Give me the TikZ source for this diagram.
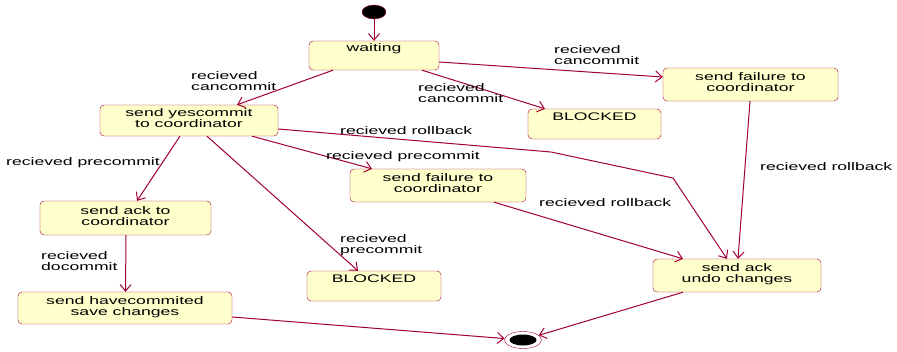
\documentclass[tikz,border=0pt]{standalone}
\usepackage{fontspec}
\newfontfamily\umlfont{Liberation Sans}[FakeStretch=1.6]
\usetikzlibrary{arrows.meta,shapes.geometric}
\definecolor{umlred}{RGB}{160,0,52}
\definecolor{umlfill}{RGB}{255,255,204}

\begin{document}
\begin{tikzpicture}[x=1pt, y=-1pt,
  state/.style={draw=umlred, fill=umlfill, rounded corners=4pt, align=center,
    inner sep=0pt, text depth=4pt, font=\umlfont\fontsize{11}{11}\selectfont},
  arr/.style={-{Straight Barb[length=6.5pt, width=11pt]}, draw=umlred, line width=1pt},
  note/.style={anchor=north west, align=left, inner sep=0pt,
    font=\umlfont\fontsize{11}{11}\selectfont}
]
\useasboundingbox (0,0) rectangle (897,351);

% states
\node[ellipse, fill=black, draw=umlred, minimum width=24pt, minimum height=14pt, inner sep=0pt] (init) at (374,12) {};
\node[state, minimum width=130pt, minimum height=29pt] (waiting) at (374,55.5) {waiting\\~};
\node[state, minimum width=178pt, minimum height=31pt] (yescommit) at (189,120.5) {send yescommit\\to coordinator};
\node[state, minimum width=133pt, minimum height=30pt] (blockedA) at (594.5,124) {BLOCKED\\~};
\node[state, minimum width=175pt, minimum height=33pt] (failureA) at (750.5,84.5) {send failure to\\coordinator};
\node[state, minimum width=171pt, minimum height=34pt] (ackcoord) at (125.5,218) {send ack to\\coordinator};
\node[state, minimum width=176pt, minimum height=33pt] (failureB) at (438,185.5) {send failure to\\coordinator};
\node[state, minimum width=134pt, minimum height=30pt] (blockedB) at (374,286) {BLOCKED\\~};
\node[state, minimum width=214pt, minimum height=32pt] (havecommited) at (125,308) {send havecommited\\save changes};
\node[state, minimum width=168pt, minimum height=33pt] (undo) at (737,275.5) {send ack\\undo changes};
\node[ellipse, fill=white, draw=umlred, minimum width=37pt, minimum height=17pt, inner sep=0pt] (final) at (523,340) {};
\fill[black] (final) ellipse [x radius=13.5pt, y radius=5.5pt];

\coordinate (bendA) at (551,152);
\coordinate (bendB) at (673,178);

% transitions
\draw[arr] (init) -- (waiting);
\draw[arr] ([xshift=-41pt]waiting.south) -- ([xshift=48pt]yescommit.north);
\draw[arr] ([xshift=48pt]waiting.south) -- ([xshift=-49.5pt]blockedA.north);
\draw[arr] ([yshift=-6.5pt]waiting.east) -- ([yshift=7.5pt]failureA.west);
\draw[arr] ([xshift=-0.5pt]failureA.south) -- ([xshift=1pt]undo.north);
\draw[arr] ([xshift=-9pt]yescommit.south) -- ([xshift=11.5pt]ackcoord.north);
\draw[arr] ([xshift=18pt]yescommit.south) -- ([xshift=-16pt]blockedB.north);
\draw[arr] ([xshift=63pt]yescommit.south) -- ([xshift=-66pt]failureB.north);
\draw[arr] ([yshift=-8.5pt]yescommit.east) -- (bendA) -- (bendB) -- ([xshift=-10pt]undo.north);
\draw[arr] ([xshift=56pt]failureB.south) -- ([xshift=-54pt]undo.north);
\draw[arr] ([xshift=0.5pt]ackcoord.south) -- ([xshift=0.5pt]havecommited.north);
\draw[arr] ([yshift=-9pt]havecommited.east) -- (final);
\draw[arr] ([xshift=-54pt]undo.south) -- (final);

% guards
\node[note] (lblA) at (191,71) {recieved\\cancommit};
\node[note] (lblB) at (418,83) {recieved\\cancommit};
\node[note] (lblC) at (554,45) {recieved\\cancommit};
\node[note] (lblD) at (760,162) {recieved rollback};
\node[note] (lblE) at (6,157) {recieved precommit};
\node[note] (lblF) at (340,234) {recieved\\precommit};
\node[note] (lblG) at (326,151) {recieved precommit};
\node[note] (lblH) at (340,126) {recieved rollback};
\node[note] (lblI) at (539,198) {recieved rollback};
\node[note] (lblJ) at (41,251) {recieved\\docommit};
\end{tikzpicture}
\end{document}
